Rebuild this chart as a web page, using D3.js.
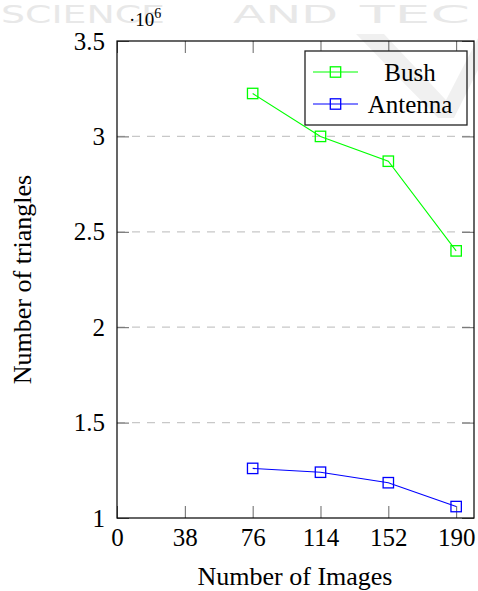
<!DOCTYPE html>
<html>
<head>
<meta charset="utf-8">
<script src="https://cdn.jsdelivr.net/npm/d3@7/dist/d3.min.js"></script>
<style>
  html, body { margin: 0; padding: 0; background: #fff; }
  svg { display: block; }
</style>
</head>
<body>
<script>
// ---- data ----
const images = [76, 114, 152, 190];
const bushTriangles = [3.225, 3.0, 2.87, 2.4];       // x 10^6
const antennaTriangles = [1.26, 1.24, 1.185, 1.06];  // x 10^6
const xTickValues = [0, 38, 76, 114, 152, 190];
const yTickValues = [1, 1.5, 2, 2.5, 3, 3.5];
const yTickLabels = ["1", "1.5", "2", "2.5", "3", "3.5"];
const seriesNames = ["Bush", "Antenna"];
const seriesColors = ["#00ff00", "#0000ff"];
const watermarkWords = ["SCIENCE", "AND", "TEC"];

const W = 478, H = 591;
const pL = 117, pR = 474, pT = 41, pB = 518;
const font = "'Liberation Serif', 'Times New Roman', serif";

const svg = d3.select("body").append("svg").attr("width", W).attr("height", H);

// watermark text
const wmX = [1, 233, 360], wmLen = [164, 105, 110];
svg.append("g").selectAll("text").data(watermarkWords).join("text")
  .attr("x", (d, i) => wmX[i]).attr("y", 23)
  .attr("font-family", "'DejaVu Sans', sans-serif")
  .attr("font-size", 24)
  .attr("fill", "#e8e8e8")
  .attr("textLength", (d, i) => wmLen[i])
  .attr("lengthAdjust", "spacingAndGlyphs")
  .text(d => d);

const x = d3.scaleLinear().domain([0, 200]).range([pL, pR]);
const y = d3.scaleLinear().domain([1, 3.5]).range([pB, pT]);

// grid
svg.append("g").selectAll("line")
  .data(yTickValues.filter(v => v > 1 && v < 3.5))
  .join("line")
  .attr("x1", pL).attr("x2", pR)
  .attr("y1", d => y(d)).attr("y2", d => y(d))
  .attr("stroke", "#c8c8c8").attr("stroke-width", 1.2)
  .attr("stroke-dasharray", "8,7");

// axes
const tickLen = 12;
const xAxis = svg.append("g").attr("transform", `translate(0,${pB})`)
  .call(d3.axisBottom(x).tickValues(xTickValues).tickSizeInner(-tickLen).tickSizeOuter(0).tickPadding(10));
const xTop = svg.append("g").attr("transform", `translate(0,${pT})`)
  .call(d3.axisTop(x).tickValues(xTickValues).tickSizeInner(-tickLen).tickSizeOuter(0).tickFormat(""));
const yAxis = svg.append("g").attr("transform", `translate(${pL},0)`)
  .call(d3.axisLeft(y).tickValues(yTickValues).tickSizeInner(-tickLen).tickSizeOuter(0).tickPadding(12)
    .tickFormat((d, i) => yTickLabels[i]));
const yRight = svg.append("g").attr("transform", `translate(${pR},0)`)
  .call(d3.axisRight(y).tickValues(yTickValues).tickSizeInner(-tickLen).tickSizeOuter(0).tickFormat(""));

[xAxis, xTop, yAxis, yRight].forEach(g => {
  g.select(".domain").remove();
  g.selectAll(".tick line").attr("stroke", "#666").attr("stroke-width", 1);
  g.selectAll("text").attr("font-family", font).attr("font-size", 25).attr("fill", "#000");
});

// frame
svg.append("rect")
  .attr("x", pL).attr("y", pT).attr("width", pR - pL).attr("height", pB - pT)
  .attr("fill", "none").attr("stroke", "#000").attr("stroke-width", 1.2);

// series
const series = [bushTriangles, antennaTriangles];
const line = d3.line().x((d, i) => x(images[i])).y(d => y(d));
series.forEach((vals, s) => {
  const g = svg.append("g");
  g.append("path").datum(vals).attr("d", line)
    .attr("fill", "none").attr("stroke", seriesColors[s]).attr("stroke-width", 1.1);
  g.selectAll("rect").data(vals).join("rect")
    .attr("x", (d, i) => x(images[i]) - 5.2).attr("y", d => y(d) - 5.2)
    .attr("width", 10.4).attr("height", 10.4)
    .attr("fill", "none").attr("stroke", seriesColors[s]).attr("stroke-width", 1.3);
});

// scale label
const sc = svg.append("text").attr("x", 129).attr("y", 26)
  .attr("font-family", font).attr("font-size", 19).attr("fill", "#000");
sc.append("tspan").text("\u00b710");
sc.append("tspan").attr("dy", -8).attr("font-size", 14).text("6");

// axis titles
svg.append("text")
  .attr("x", (pL + pR) / 2 - 0.5).attr("y", 585)
  .attr("text-anchor", "middle")
  .attr("font-family", font).attr("font-size", 26).attr("fill", "#000")
  .text("Number of Images");
svg.append("text")
  .attr("transform", `translate(31,${(pT + pB) / 2}) rotate(-90)`)
  .attr("text-anchor", "middle")
  .attr("font-family", font).attr("font-size", 26).attr("fill", "#000")
  .text("Number of triangles");

// legend
const lg = svg.append("g");
lg.append("rect").attr("x", 305).attr("y", 51).attr("width", 162).attr("height", 74)
  .attr("fill", "#fff").attr("stroke", "#222").attr("stroke-width", 1.3);
const rowY = d3.scalePoint().domain(seriesNames).range([72, 104]);
seriesNames.forEach((name, s) => {
  const ry = rowY(name);
  lg.append("line").attr("x1", 313).attr("x2", 358).attr("y1", ry).attr("y2", ry)
    .attr("stroke", seriesColors[s]).attr("stroke-width", 1.1);
  lg.append("rect").attr("x", 335.5 - 5.2).attr("y", ry - 5.2).attr("width", 10.4).attr("height", 10.4)
    .attr("fill", "none").attr("stroke", seriesColors[s]).attr("stroke-width", 1.3);
  lg.append("text").attr("x", 410).attr("y", ry + 8.5).attr("text-anchor", "middle")
    .attr("font-family", font).attr("font-size", 25).attr("fill", "#000").text(name);
});

// faint "V" watermark overlay
svg.append("path")
  .attr("d", "M356,34 L384,34 L446,100 L478,38 L478,70 L454,118 L438,118 Z")
  .attr("fill", "#000").attr("opacity", 0.06);
</script>
</body>
</html>
